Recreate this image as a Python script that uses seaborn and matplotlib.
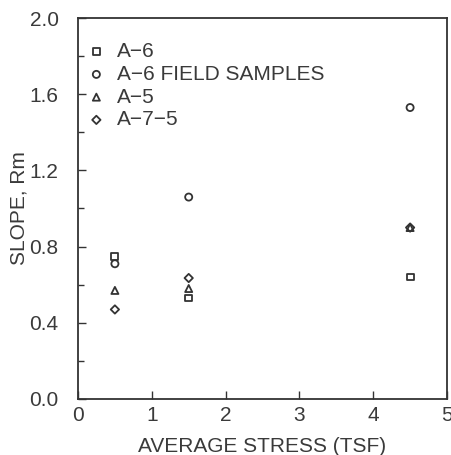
import matplotlib
matplotlib.use("Agg")
import matplotlib.pyplot as plt
import seaborn as sns
import pandas as pd
from matplotlib.ticker import MultipleLocator

series = ["A\u22126", "A\u22126 FIELD SAMPLES", "A\u22125", "A\u22127\u22125"]
stress = [0.5, 1.5, 4.5]
a6 = [0.75, 0.53, 0.64]
a6_field = [0.71, 1.06, 1.53]
a5 = [0.57, 0.58, 0.90]
a75 = [0.47, 0.635, 0.90]

rows = []
for name, vals in zip(series, [a6, a6_field, a5, a75]):
    for x, y in zip(stress, vals):
        rows.append({"stress": x, "slope": y, "soil": name})
df = pd.DataFrame(rows)

sns.set_theme(style="white")
plt.rcParams['font.family'] = ['Liberation Sans', 'DejaVu Sans']

TXT = "#3a3a3a"
fig = plt.figure(figsize=(4.52, 4.55), dpi=100)
ax = fig.add_axes([78/452, 1 - 399/455, (447-78)/452, (399-18)/455])

markers = {series[0]: "s", series[1]: "o", series[2]: "^", series[3]: "D"}
sizes = {series[0]: 24, series[1]: 26, series[2]: 26, series[3]: 18}
for name in series:
    sub = df[df.soil == name]
    sns.scatterplot(data=sub, x="stress", y="slope", marker=markers[name],
                    s=sizes[name], facecolor="none", edgecolor="#333333",
                    linewidth=1.3, ax=ax, label=name)

ax.set_xlim(0, 5)
ax.set_ylim(0, 2.0)
ax.xaxis.set_major_locator(MultipleLocator(1))
ax.yaxis.set_minor_locator(MultipleLocator(0.2))
ax.set_yticks([0.0, 0.4, 0.8, 1.2, 1.6, 2.0])
ax.set_yticklabels(["0.0", "0.4", "0.8", "1.2", "1.6", "2.0"])
ax.tick_params(axis="both", which="both", direction="in", color="#333333",
               labelsize=15, labelcolor=TXT, left=True, bottom=True)
ax.tick_params(axis="both", which="major", length=6, width=1)
ax.tick_params(axis="y", which="major", pad=14)
ax.tick_params(axis="x", which="major", pad=5)
ax.tick_params(axis="y", which="minor", length=4, width=1, left=True)
for s in ax.spines.values():
    s.set_color("#333333")
    s.set_linewidth(1.3)

ax.set_xlabel("AVERAGE STRESS (TSF)", fontsize=15, color=TXT, labelpad=9)
ax.set_ylabel("SLOPE, Rm", fontsize=15, color=TXT)
ax.yaxis.set_label_coords(-0.135, 0.5)

leg = ax.legend(loc="upper left", bbox_to_anchor=(-0.018, 0.975), frameon=False,
                fontsize=15, handletextpad=0.5, labelspacing=0.18,
                borderaxespad=0.3, handlelength=1.0)
for t in leg.get_texts():
    t.set_color(TXT)

fig.savefig("out.png", dpi=100)
